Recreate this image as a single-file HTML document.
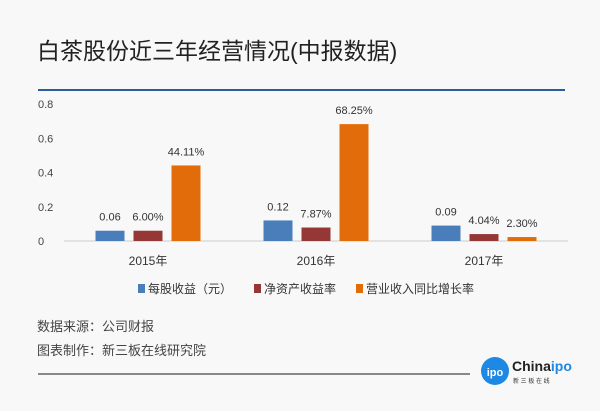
<!DOCTYPE html>
<html><head><meta charset="utf-8"><style>
body{margin:0;background:#f8f8f8;font-family:"Liberation Sans","Noto Sans CJK SC",sans-serif;}
</style></head><body>
<svg width="600" height="406" viewBox="0 0 600 406" xmlns="http://www.w3.org/2000/svg" font-family="Liberation Sans, Noto Sans CJK SC, sans-serif">
<rect width="600" height="406" fill="#f8f8f8"/>
<text x="37" y="59" font-size="23" fill="#222">白茶股份近三年经营情况(中报数据)</text>
<line x1="38" y1="90" x2="565" y2="90" stroke="#2f5c9a" stroke-width="2"/>
<g id="axes"></g>
<g id="bars"></g>
<g font-size="12" fill="#333">
<rect x="138" y="284" width="7" height="9" fill="#4a7ebb"/>
<text x="148" y="293">每股收益（元）</text>
<rect x="254" y="284" width="7" height="9" fill="#953735"/>
<text x="264" y="293">净资产收益率</text>
<rect x="356" y="284" width="7" height="9" fill="#e36c0a"/>
<text x="366" y="293">营业收入同比增长率</text>
</g>
<text x="37" y="331" font-size="13" fill="#444">数据来源：公司财报</text>
<text x="37" y="355" font-size="13" fill="#444">图表制作：新三板在线研究院</text>
<line x1="38" y1="374" x2="470" y2="374" stroke="#444" stroke-width="1.2"/>
<circle cx="495" cy="371" r="14" fill="#1e88e5"/>
<text x="495" y="376" font-size="11" font-weight="bold" fill="#fff" text-anchor="middle">ipo</text>
<text x="512" y="371" font-size="14" font-weight="bold" fill="#222">China<tspan fill="#1e88e5">ipo</tspan></text>
<text x="513" y="383" font-size="6" fill="#333">新 三 板 在 线</text>
</svg>
<script>
const categories=["2015年","2016年","2017年"];
const eps=[0.06,0.12,0.09];
const roe=[0.06,0.0787,0.0404];
const growth=[0.4411,0.6825,0.023];
const epsLabels=["0.06","0.12","0.09"];
const roeLabels=["6.00%","7.87%","4.04%"];
const growthLabels=["44.11%","68.25%","2.30%"];
const ticks=[0,0.2,0.4,0.6,0.8];
const NS="http://www.w3.org/2000/svg";
const x0=64,catW=168,yBase=241,yTop=104,yMax=0.8;
const y=v=>yBase-(v/yMax)*(yBase-yTop);
const xc=i=>x0+catW*i+catW/2;
function mk(t,a,p){const e=document.createElementNS(NS,t);for(const k in a)e.setAttribute(k,a[k]);p.appendChild(e);return e;}
const axes=document.getElementById('axes'),bars=document.getElementById('bars');
ticks.forEach(t=>{const e=mk('text',{x:38,y:y(t)+4,'font-size':11,fill:'#444'},axes);e.textContent=String(t);

});
const ax=mk('line',{x1:x0,x2:x0+catW*3,y1:yBase,y2:yBase,stroke:'#ccc','stroke-width':1},axes);


categories.forEach((c,i)=>{const e=mk('text',{x:xc(i),y:265,'font-size':12,fill:'#333','text-anchor':'middle'},axes);e.textContent=c;

});
const series=[[eps,epsLabels,'#4a7ebb','eps'],[roe,roeLabels,'#953735','roe'],[growth,growthLabels,'#e36c0a','growth']];
const bw=29,gap=9;
series.forEach((s,si)=>{s[0].forEach((v,i)=>{
 const bx=xc(i)-bw*1.5-gap+si*(bw+gap);
 const r=mk('rect',{x:bx,y:y(v),width:bw,height:yBase-y(v),fill:s[2]},bars);
 
 
 const t=mk('text',{x:bx+bw/2,y:y(v)-10,'font-size':11,fill:'#333','text-anchor':'middle'},bars);t.textContent=s[1][i];
 
 
});});
</script>
</body></html>
